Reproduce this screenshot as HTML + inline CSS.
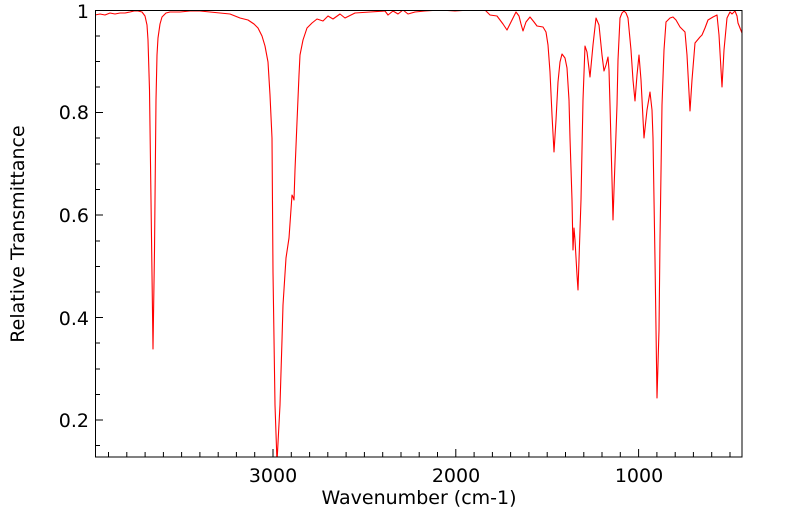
<!DOCTYPE html>
<html><head><meta charset="utf-8"><style>
html,body{margin:0;padding:0;background:#fff;}
svg text{font-family:"DejaVu Sans","Liberation Sans",sans-serif;fill:#000;}
</style></head><body>
<svg width="799" height="516" viewBox="0 0 799 516" xmlns="http://www.w3.org/2000/svg">
<defs><clipPath id="c"><rect x="95" y="10" width="647" height="447"/></clipPath></defs>
<g clip-path="url(#c)">
<polyline fill="none" stroke="#ff0000" stroke-width="1.1" stroke-linejoin="round" points="
95,15 100,14 105,15 110,13 115,14 120,13 125,13 130,12 134,11 138,11 142,12 145,16 147,25 148,40 149.5,90 151,200 153,349 154.5,250 156,100 157,55 158,38 160,24 162,17 166,13 170,12 180,12 190,11 200,11 210,12 220,13 230,14 240,18 248,20 254,24 258,28 262,36 265,46 268,62 270,95 272,138 273,272 275,405 277,462 280,405 282,340 283,305 286,258 289,238 292,195 293,197 294,200 295,170 297,122 299,75 300,55 303,40 307,28 312,23 317,19 323,21 328,16 333,19 340,14 345,18 355,13 370,12 385,11 388,15 393,11 398,14 403,10 408,14 415,12 425,11 440,10 455,11 470,10 485,10 490,15 497,16 500,20 503,24 507,30 510,24 516,12 519,16 521,24 523,31 526,22 530,17 534,22 537,26 543,27 546,32 548,45 550,72 552,115 554,152 556,120 558,82 560,62 562,54 565,58 567,68 569,100 570,138 572,200 573,250 574,228 575,240 577,275 578,290 579,260 581,200 583,100 585,46 587,52 590,77 593,45 596,18 599,25 602,55 604,71 606,65 608,57 609,70 610,105 612,180 613,220 614,190 617,105 618,60 620,18 622,13 624,11 626,13 628,18 631,50 633,80 635,101 637,75 639,55 641,80 644,138 647,110 650,92 652,110 653,138 655,260 657,398 659,330 660,240 662,105 664,50 666,22 670,18 673,17 676,20 680,27 685,32 687,55 690,111 692,80 695,43 700,37 702,35 705,28 708,20 713,17 717,15 719,35 722,87 724,50 727,18 730,12 732,14 735,11 737,16 738,23 740,28 742,33"/>
</g>
<rect x="95.5" y="10.5" width="646.5" height="446.5" fill="none" stroke="#000" stroke-width="1"/>
<g stroke="#000" stroke-width="1">
<line x1="95" y1="10.5" x2="103" y2="10.5"/>
<line x1="95" y1="36" x2="100" y2="36"/>
<line x1="95" y1="61.5" x2="100" y2="61.5"/>
<line x1="95" y1="87" x2="100" y2="87"/>
<line x1="95" y1="112.5" x2="103" y2="112.5"/>
<line x1="95" y1="138" x2="100" y2="138"/>
<line x1="95" y1="164" x2="100" y2="164"/>
<line x1="95" y1="189.5" x2="100" y2="189.5"/>
<line x1="95" y1="215" x2="103" y2="215"/>
<line x1="95" y1="241" x2="100" y2="241"/>
<line x1="95" y1="266.5" x2="100" y2="266.5"/>
<line x1="95" y1="292" x2="100" y2="292"/>
<line x1="95" y1="317.5" x2="103" y2="317.5"/>
<line x1="95" y1="343" x2="100" y2="343"/>
<line x1="95" y1="369" x2="100" y2="369"/>
<line x1="95" y1="394.5" x2="100" y2="394.5"/>
<line x1="95" y1="420" x2="103" y2="420"/>
<line x1="95" y1="445.5" x2="100" y2="445.5"/>
<line x1="108.5" y1="457" x2="108.5" y2="452"/>
<line x1="126.8" y1="457" x2="126.8" y2="452"/>
<line x1="145.1" y1="457" x2="145.1" y2="452"/>
<line x1="163.4" y1="457" x2="163.4" y2="452"/>
<line x1="181.6" y1="457" x2="181.6" y2="452"/>
<line x1="199.9" y1="457" x2="199.9" y2="452"/>
<line x1="218.2" y1="457" x2="218.2" y2="452"/>
<line x1="236.4" y1="457" x2="236.4" y2="452"/>
<line x1="254.7" y1="457" x2="254.7" y2="452"/>
<line x1="273" y1="457" x2="273" y2="449"/>
<line x1="291.3" y1="457" x2="291.3" y2="452"/>
<line x1="309.6" y1="457" x2="309.6" y2="452"/>
<line x1="327.8" y1="457" x2="327.8" y2="452"/>
<line x1="346.1" y1="457" x2="346.1" y2="452"/>
<line x1="364.4" y1="457" x2="364.4" y2="452"/>
<line x1="382.7" y1="457" x2="382.7" y2="452"/>
<line x1="401" y1="457" x2="401" y2="452"/>
<line x1="419.2" y1="457" x2="419.2" y2="452"/>
<line x1="437.5" y1="457" x2="437.5" y2="452"/>
<line x1="455.8" y1="457" x2="455.8" y2="449"/>
<line x1="474.1" y1="457" x2="474.1" y2="452"/>
<line x1="492.4" y1="457" x2="492.4" y2="452"/>
<line x1="510.6" y1="457" x2="510.6" y2="452"/>
<line x1="528.9" y1="457" x2="528.9" y2="452"/>
<line x1="547.2" y1="457" x2="547.2" y2="452"/>
<line x1="565.5" y1="457" x2="565.5" y2="452"/>
<line x1="583.8" y1="457" x2="583.8" y2="452"/>
<line x1="602" y1="457" x2="602" y2="452"/>
<line x1="620.3" y1="457" x2="620.3" y2="452"/>
<line x1="638.6" y1="457" x2="638.6" y2="449"/>
<line x1="656.9" y1="457" x2="656.9" y2="452"/>
<line x1="675.2" y1="457" x2="675.2" y2="452"/>
<line x1="693.4" y1="457" x2="693.4" y2="452"/>
<line x1="711.7" y1="457" x2="711.7" y2="452"/>
<line x1="730" y1="457" x2="730" y2="452"/>
</g>
<g font-size="19" text-anchor="end">
<text x="89" y="18">1</text>
<text x="89" y="119">0.8</text>
<text x="89" y="222">0.6</text>
<text x="89" y="325">0.4</text>
<text x="89" y="427">0.2</text>
</g>
<g font-size="19" text-anchor="middle">
<text x="273" y="482">3000</text>
<text x="456" y="482">2000</text>
<text x="639" y="482">1000</text>
<text x="419" y="504">Wavenumber (cm-1)</text>
<text transform="translate(24,234) rotate(-90)">Relative Transmittance</text>
</g>
</svg>
</body></html>
